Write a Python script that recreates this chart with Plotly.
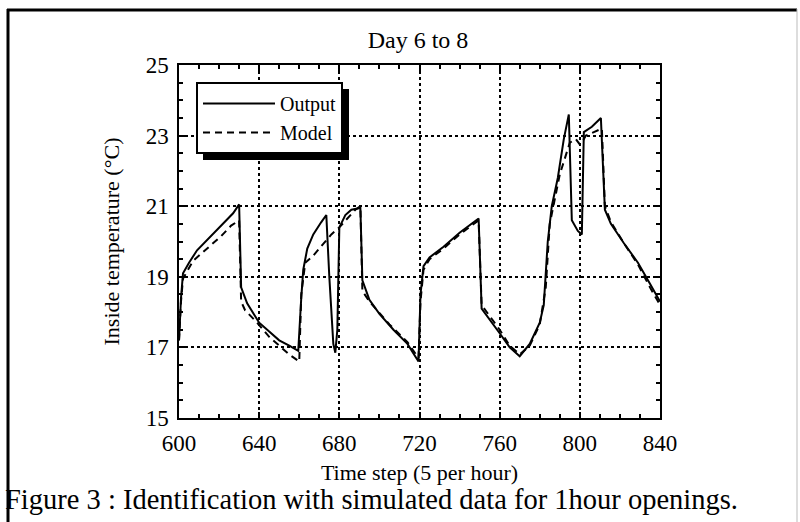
import plotly.graph_objects as go

# ---- data ----
t_output = [600, 601, 602, 605, 609, 615, 622, 627, 630, 631, 634, 640, 645, 650, 655, 659.5,
            661, 662, 664, 667, 671, 673.5, 675, 677, 678, 679, 680, 683, 686, 690.5,
            691.5, 695, 700, 707, 714, 719.5,
            720.5, 722, 725, 732, 740, 749.5, 751, 755, 760, 765, 770, 775, 780, 782,
            783, 784, 786, 789, 792, 794.5, 796, 799, 801,
            802, 806, 810.5, 812.5, 815.5, 822, 829, 835, 838, 840]
output = [17.2, 18.4, 19.1, 19.4, 19.75, 20.1, 20.5, 20.8, 21.05, 18.7, 18.25, 17.7, 17.45, 17.2, 17.05, 16.9,
          18.4, 19.2, 19.8, 20.2, 20.55, 20.75, 19.0, 17.1, 16.85, 17.5, 20.4, 20.75, 20.9, 20.95,
          18.9, 18.35, 17.95, 17.5, 17.1, 16.6,
          18.5, 19.3, 19.55, 19.85, 20.25, 20.65, 18.1, 17.8, 17.4, 17.0, 16.75, 17.1, 17.7, 18.2,
          19.0, 20.0, 21.0, 21.8, 22.9, 23.6, 20.6, 20.3, 20.2,
          23.1, 23.25, 23.5, 20.9, 20.5, 19.95, 19.4, 18.8, 18.5, 18.3]

t_model = [600, 601, 602, 607, 615, 621, 626, 630, 631, 633, 639, 645, 650, 655, 660,
           661, 663, 667, 670, 673, 676, 680, 684, 688, 690.5,
           691.5, 695, 699, 705, 714, 719.5,
           720.5, 722, 725, 732, 740, 749.5, 751, 755, 760, 765, 770, 775, 780,
           783, 785, 790, 795, 798, 800, 801, 803, 807, 811,
           812.5, 815.5, 822, 829, 835, 840]
model = [17.2, 18.3, 18.95, 19.45, 19.85, 20.15, 20.45, 20.6, 18.3, 18.05, 17.7, 17.3, 17.05, 16.8, 16.6,
         18.5, 19.4, 19.6, 19.8, 20.0, 20.2, 20.4, 20.65, 20.9, 21.0,
         18.6, 18.3, 18.05, 17.65, 17.15, 16.7,
         18.3, 19.2, 19.5, 19.8, 20.2, 20.6, 18.2, 17.9, 17.5, 17.05, 16.8, 17.05, 17.65,
         18.7, 20.5, 21.9, 22.8, 22.9, 22.75, 22.8, 23.0, 23.1, 23.2,
         21.0, 20.55, 19.95, 19.35, 18.7, 18.2]

x_ticks = [600, 640, 680, 720, 760, 800, 840]
y_ticks = [15, 17, 19, 21, 23, 25]

FONT = "Liberation Serif, Times New Roman, serif"

fig = go.Figure()
fig.add_trace(go.Scatter(x=t_output, y=output, mode="lines", name="Output",
                         line=dict(color="black", width=2)))
fig.add_trace(go.Scatter(x=t_model, y=model, mode="lines", name="Model",
                         line=dict(color="black", width=2, dash="7px,5px")))

L, R, T, B = 179, 660, 65, 418
W, H = 800, 522


def px(x):
    return (x - L) / (R - L)


def py(y):
    return (B - y) / (B - T)


shapes = [
    # outer figure frame
    dict(type="line", xref="paper", yref="paper", x0=px(7), x1=px(797), y0=py(10), y1=py(10),
         line=dict(color="black", width=3)),
    dict(type="line", xref="paper", yref="paper", x0=px(8), x1=px(8), y0=py(9), y1=py(522),
         line=dict(color="black", width=3)),
    dict(type="line", xref="paper", yref="paper", x0=px(797), x1=px(797), y0=py(9), y1=py(522),
         line=dict(color="#bbbbbb", width=1)),
    # legend shadow
    dict(type="rect", xref="paper", yref="paper", x0=px(203), x1=px(349), y0=py(89), y1=py(160),
         fillcolor="black", line=dict(width=0), layer="above"),
]

axis_common = dict(
    showline=True, linecolor="black", linewidth=1.5, mirror="allticks",
    ticks="inside", ticklen=6, tickcolor="black", tickwidth=1.5,
    showgrid=True, gridcolor="black", gridwidth=1.5, griddash="dot",
    zeroline=False, ticklabelstandoff=4,
    tickfont=dict(family=FONT, size=23, color="black"),
)

fig.update_layout(
    width=W, height=H,
    margin=dict(l=L, r=W - R, t=T, b=H - B, autoexpand=False),
    paper_bgcolor="white", plot_bgcolor="white",
    font=dict(family=FONT, color="black"),
    title=dict(text="Day 6 to 8", xref="paper", x=px(418), xanchor="center",
               yref="container", y=1 - 40 / H, yanchor="middle",
               font=dict(family=FONT, size=24, color="black")),
    xaxis=dict(range=[600, 840], tickvals=x_ticks, ticktext=[str(v) for v in x_ticks],
               minor=dict(dtick=10, ticks="inside", ticklen=4, tickcolor="black", showgrid=False),
               title=dict(text="Time step (5 per hour)", font=dict(family=FONT, size=22), standoff=9),
               **axis_common),
    yaxis=dict(range=[15, 25], tickvals=y_ticks, ticktext=[str(v) for v in y_ticks],
               minor=dict(dtick=0.5, ticks="inside", ticklen=4, tickcolor="black", showgrid=False),
               title=dict(text="Inside temperature (°C)", font=dict(family=FONT, size=22), standoff=20),
               **axis_common),
    showlegend=True,
    legend=dict(x=px(196), y=py(82), xanchor="left", yanchor="top",
                bgcolor="white", bordercolor="black", borderwidth=2,
                font=dict(family=FONT, size=20, color="black"),
                itemwidth=72, tracegroupgap=0),
    shapes=shapes,
    annotations=[
        dict(text="Figure 3 : Identification with simulated data for 1hour openings.",
             xref="paper", yref="paper", x=px(3), y=py(500), xanchor="left", yanchor="middle",
             showarrow=False, font=dict(family=FONT, size=28.5, color="black")),
    ],
)

fig.write_html("out.html", post_script="document.body.style.margin='0';",
               config={"displayModeBar": False})
